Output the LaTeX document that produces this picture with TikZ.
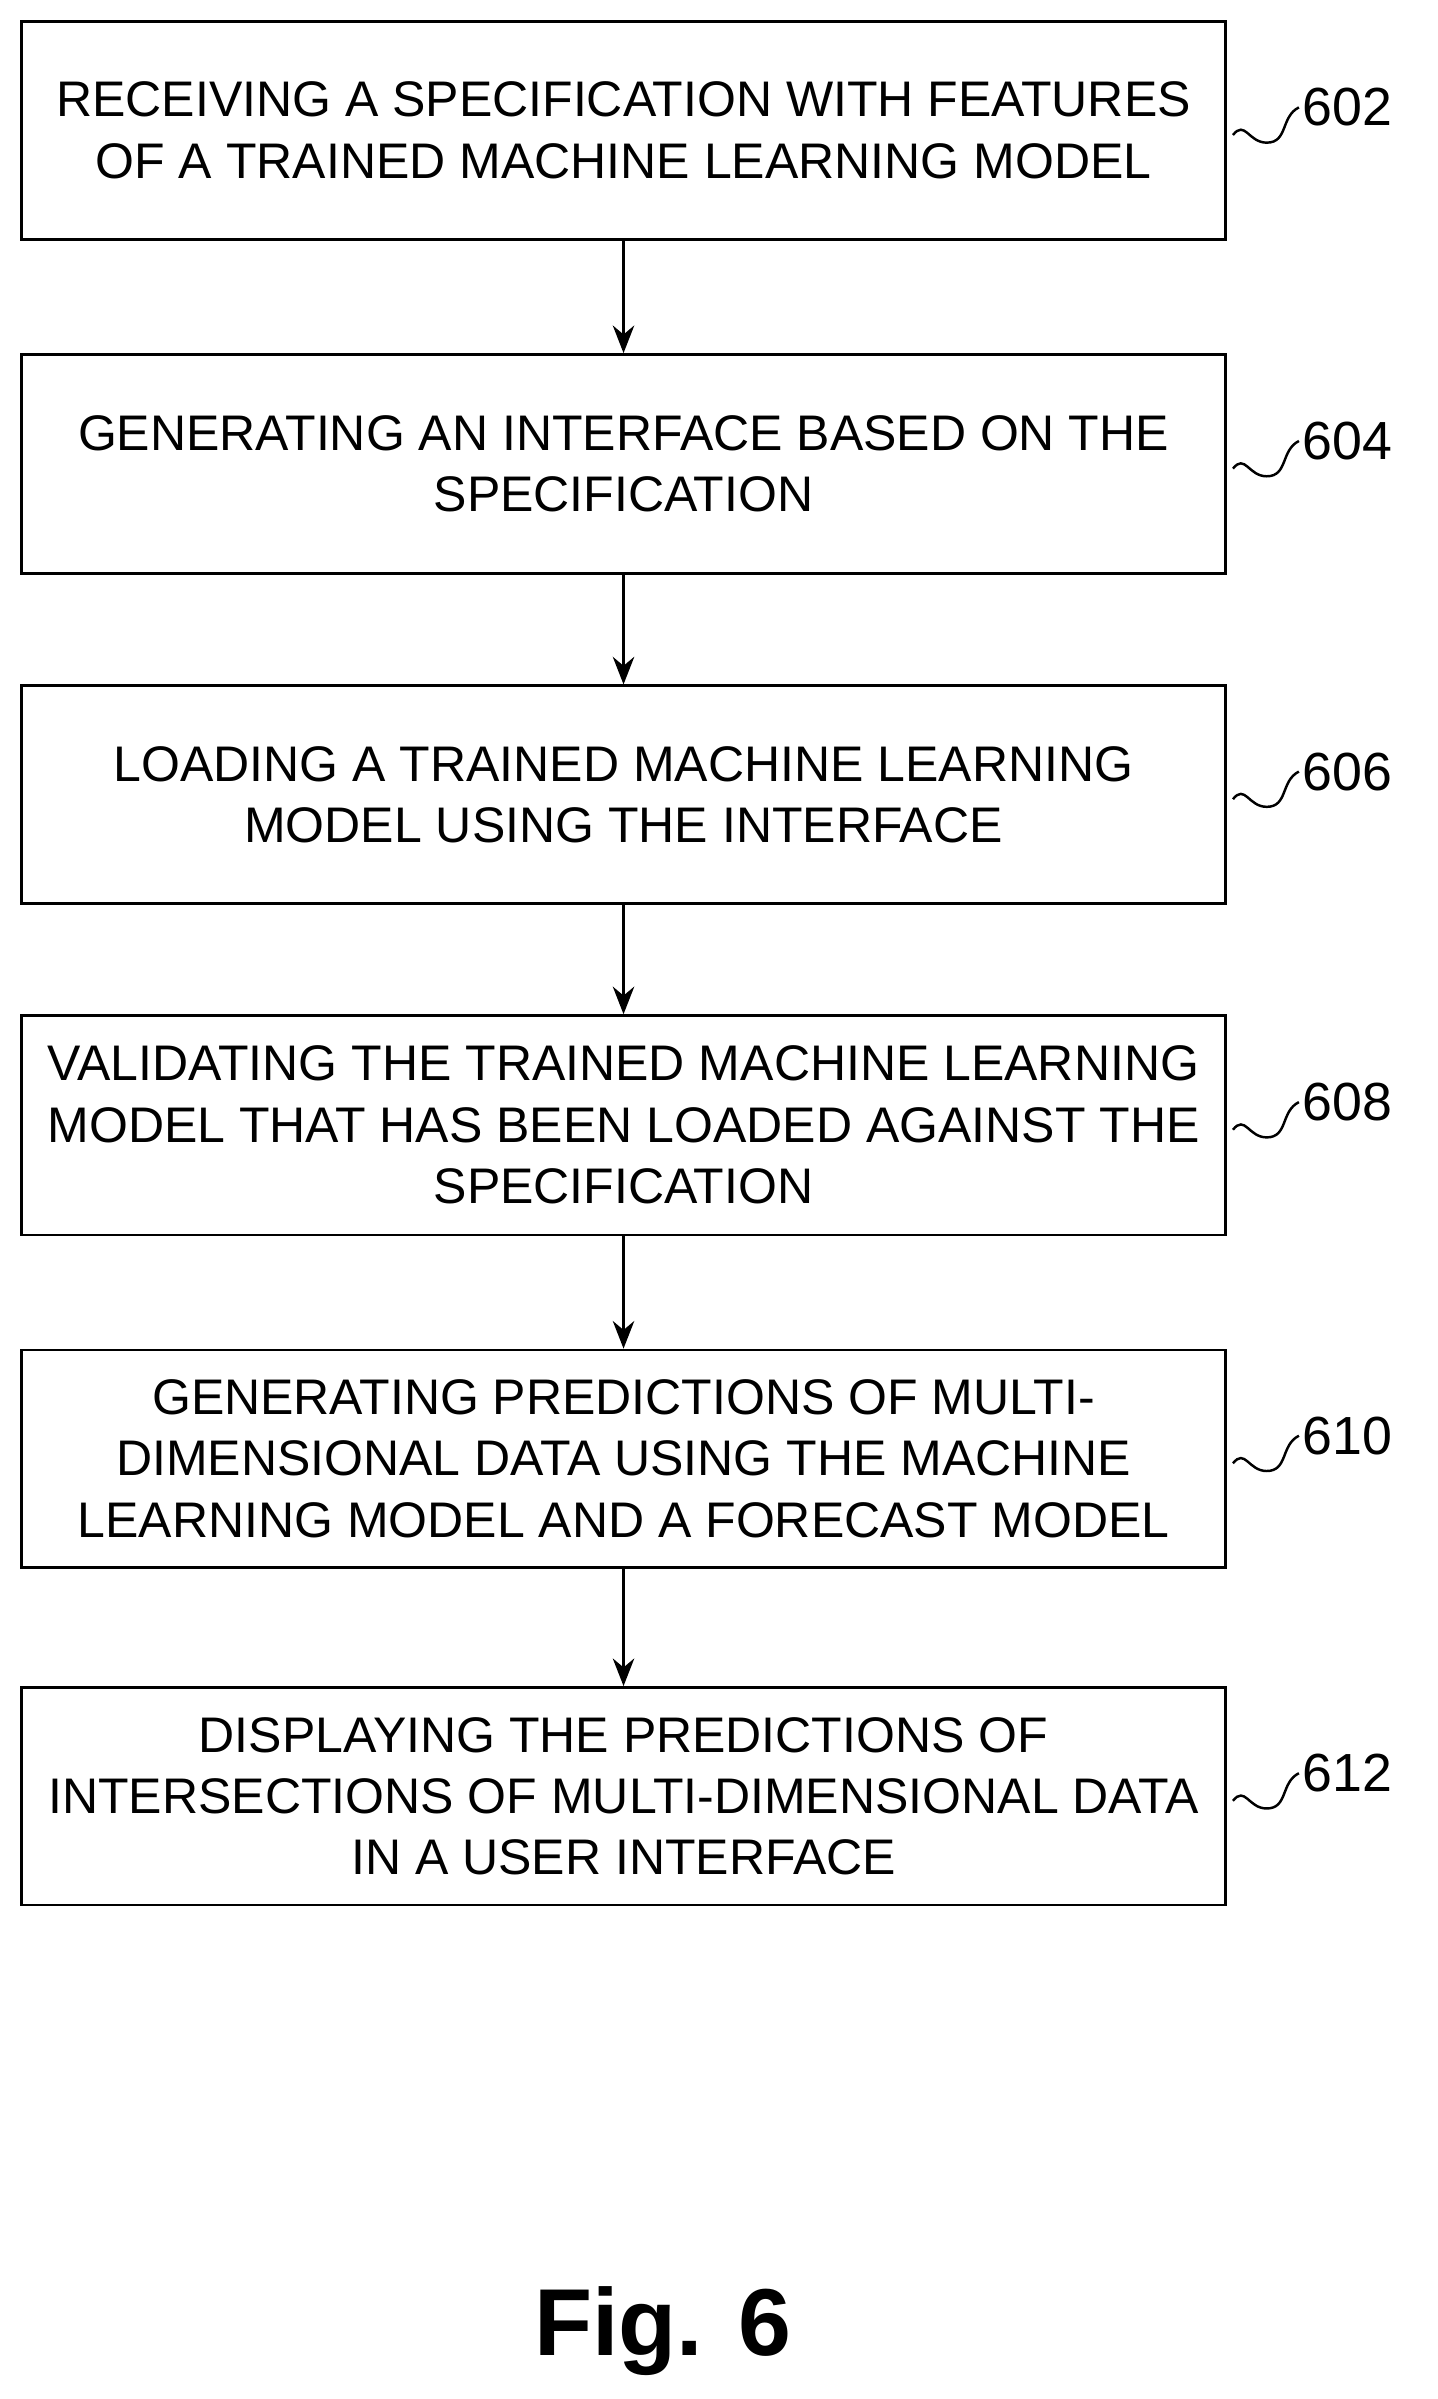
\documentclass[tikz,border=0pt]{standalone}
\usepackage{fontspec}
\setmainfont{Liberation Sans}
\usetikzlibrary{arrows.meta}
\begin{document}
\begin{tikzpicture}[x=0.5pt,y=-0.5pt,
	stepbox/.style = {draw, thick, rectangle, minimum width=392.5pt, align=center,
		font=\fontsize{16.3}{20}\selectfont, inner sep=0pt},
	ref/.style  = {font=\fontsize{17.5}{20}\selectfont, anchor=west, inner sep=0pt},
	flow/.style = {-{Stealth[length=9pt,width=7pt]}, thick},
	>=Stealth]
	\useasboundingbox (0,0) rectangle (937,1564);

	% the steps of the flow chart
	\node[stepbox, minimum height=71pt] (s602) at (406.5,85) {RECEIVING A SPECIFICATION WITH FEATURES\\OF A TRAINED MACHINE LEARNING MODEL};
	\node[stepbox, minimum height=71.5pt] (s604) at (406.5,302.5) {GENERATING AN INTERFACE BASED ON THE\\SPECIFICATION};
	\node[stepbox, minimum height=71pt] (s606) at (406.5,518) {LOADING A TRAINED MACHINE LEARNING\\MODEL USING THE INTERFACE};
	\node[stepbox, minimum height=71.5pt] (s608) at (406.5,733.5) {VALIDATING THE TRAINED MACHINE LEARNING\\MODEL THAT HAS BEEN LOADED AGAINST THE\\SPECIFICATION};
	\node[stepbox, minimum height=71pt] (s610) at (406.5,951) {GENERATING PREDICTIONS OF MULTI-\\DIMENSIONAL DATA USING THE MACHINE\\LEARNING MODEL AND A FORECAST MODEL};
	\node[stepbox, minimum height=71pt] (s612) at (406.5,1171) {DISPLAYING THE PREDICTIONS OF\\INTERSECTIONS OF MULTI-DIMENSIONAL DATA\\IN A USER INTERFACE};

	% reference numerals
	\foreach \n in {602,604,606,608,610,612}
	\node[ref] (r\n) at ([xshift=24.5pt,yshift=7.5pt]s\n.east) {\n};

	% arrows between the steps
	\foreach \a/\b in {602/604,604/606,606/608,608/610,610/612}
	\draw[flow] (s\a.south) -- (s\b.north);

	% wavy leaders to the numerals
	\foreach \n in {602,604,606,608,610,612}
	\draw[thick] ([xshift=2pt,yshift=-1.5pt]s\n.east) .. controls +(4pt,5pt) and +(-6pt,0pt) .. ([xshift=13pt,yshift=-4pt]s\n.east) .. controls +(7pt,0pt) and +(-6pt,-3pt) .. ([xshift=-1pt]r\n.west);

	\node[font=\fontsize{31}{36}\selectfont\bfseries] (fig) at (432,1520) {Fig. 6};
\end{tikzpicture}
\end{document}
